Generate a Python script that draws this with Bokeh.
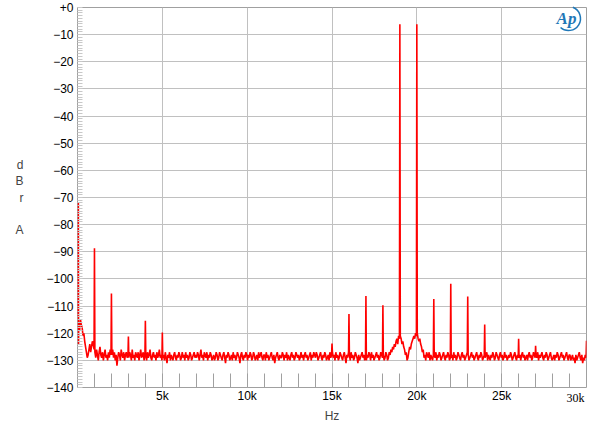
import numpy as np
from bokeh.plotting import figure
from bokeh.models import Range1d, FixedTicker, SingleIntervalTicker
from bokeh.embed import file_html
from bokeh.resources import INLINE

# ---- data ----
# noise floor: one value per 50 Hz bin, centred at 25, 75, ... 29975 Hz
bin_first_hz = 25
bin_step_hz = 50
floor_db = [
    -114, -116, -119, -115, -117, -118, -121, -120, -123, -125, -127, -129, -128, -126, -124, -127, -125, -123, -124, -126,
    -127, -129, -126, -128, -130, -127, -125, -128, -129, -127, -130, -128, -126, -129, -128, -130, -127, -129, -126, -128,
    -128, -126, -129, -127, -130, -128, -132, -129, -127, -128, -130, -126, -128, -129, -127, -130, -128, -127, -129, -128,
    -129, -127, -128, -130, -126, -129, -128, -130, -127, -128, -129, -127, -130, -128, -126, -129, -128, -127, -130, -128,
    -128, -130, -127, -129, -128, -126, -129, -130, -128, -127, -129, -128, -130, -127, -129, -128, -126, -129, -128, -130,
    -129, -128, -130, -127, -129, -131, -128, -129, -127, -130, -128, -129, -130, -128, -127, -129, -130, -128, -129, -127,
    -128, -130, -129, -127, -129, -128, -130, -127, -129, -128, -130, -129, -127, -128, -130, -129, -128, -127, -129, -128,
    -129, -127, -128, -130, -128, -126, -129, -128, -130, -127, -128, -129, -127, -130, -128, -129, -127, -128, -130, -129,
    -128, -130, -129, -127, -128, -130, -129, -127, -128, -129, -130, -128, -127, -129, -131, -128, -129, -127, -128, -130,
    -129, -128, -130, -127, -129, -128, -130, -129, -127, -128, -129, -131, -128, -127, -129, -130, -128, -129, -127, -128,
    -130, -128, -129, -127, -128, -130, -129, -127, -128, -130, -129, -128, -130, -127, -129, -128, -127, -129, -130, -128,
    -128, -130, -127, -129, -128, -130, -129, -128, -127, -129, -130, -128, -131, -129, -128, -127, -129, -130, -128, -129,
    -129, -127, -128, -130, -128, -129, -127, -130, -128, -129, -130, -128, -127, -129, -128, -130, -129, -127, -128, -129,
    -128, -130, -129, -127, -129, -128, -130, -128, -127, -129, -128, -130, -129, -128, -127, -130, -128, -129, -127, -128,
    -129, -127, -128, -130, -129, -128, -127, -129, -130, -128, -129, -127, -128, -130, -129, -128, -130, -127, -129, -128,
    -127, -129, -128, -130, -127, -129, -128, -130, -129, -127, -128, -129, -130, -128, -127, -129, -131, -128, -129, -127,
    -128, -130, -127, -129, -128, -130, -129, -127, -128, -129, -131, -128, -130, -129, -128, -127, -129, -128, -130, -129,
    -130, -128, -129, -127, -128, -130, -127, -129, -128, -130, -129, -128, -127, -129, -128, -130, -129, -127, -128, -129,
    -128, -130, -129, -127, -128, -130, -129, -127, -128, -126, -127, -125, -126, -124, -125, -123, -122, -124, -121, -122,
    -121, -122, -124, -123, -125, -126, -128, -127, -130, -129, -127, -125, -126, -124, -123, -122, -121, -122, -120, -121,
    -120, -122, -123, -122, -124, -125, -127, -126, -129, -128, -130, -127, -128, -129, -127, -130, -128, -129, -130, -128,
    -128, -129, -127, -130, -128, -129, -127, -128, -130, -129, -128, -127, -129, -130, -128, -129, -127, -128, -130, -129,
    -129, -128, -130, -127, -129, -128, -130, -129, -127, -128, -129, -130, -128, -127, -129, -128, -130, -129, -128, -127,
    -128, -130, -129, -128, -127, -129, -128, -130, -129, -128, -127, -129, -130, -128, -129, -127, -128, -130, -129, -128,
    -129, -128, -127, -130, -128, -129, -130, -128, -129, -127, -128, -130, -129, -127, -128, -129, -130, -128, -127, -129,
    -128, -130, -129, -127, -129, -128, -130, -129, -128, -129, -127, -128, -130, -129, -128, -127, -129, -130, -128, -129,
    -129, -128, -130, -128, -127, -129, -128, -130, -129, -128, -130, -128, -127, -129, -128, -130, -129, -127, -128, -129,
    -128, -129, -127, -130, -128, -129, -128, -127, -129, -130, -128, -129, -127, -128, -130, -129, -128, -127, -129, -130,
    -129, -128, -130, -128, -129, -127, -128, -130, -129, -128, -127, -129, -128, -130, -129, -128, -127, -129, -130, -128,
    -128, -130, -129, -128, -130, -129, -131, -128, -130, -129, -128, -127, -129, -130, -128, -131, -129, -130, -128, -129,
]
# DC leakage peak at the very left edge
dc_hz = [50, 60]
dc_db = [-72, -124]
# tones, harmonics and intermodulation products
spike_hz = [1000, 2000, 3000, 4000, 5000, 15000, 16000, 17000, 18000,
            19000, 20000, 21000, 22000, 23000, 24000, 26000, 27000, 30000]
spike_db = [-88.7, -105.4, -121.2, -115.4, -119.7, -123.8, -112.9, -106.3, -109.7,
            -6.2, -6.2, -107.4, -101.8, -106.5, -116.8, -122.0, -124.6, -122.8]

x_tick_hz = [5000, 10000, 15000, 20000, 25000]
x_tick_labels = ["5k", "10k", "15k", "20k", "25k"]
x_last_hz = [30000]
x_last_label = ["30k"]
x_minor_hz = [1000, 2000, 3000, 4000, 6000, 7000, 8000, 9000, 11000, 12000, 13000, 14000,
              16000, 17000, 18000, 19000, 21000, 22000, 23000, 24000, 26000, 27000, 28000, 29000]

# ---- build the trace ----
floor_hz = bin_first_hz + bin_step_hz * np.arange(len(floor_db))
all_hz = np.concatenate([np.array(dc_hz, dtype=float), floor_hz, np.array(spike_hz, dtype=float)])
all_db = np.concatenate([np.array(dc_db, dtype=float), np.array(floor_db, dtype=float),
                         np.array(spike_db, dtype=float)])
order = np.argsort(all_hz, kind="stable")
all_hz = all_hz[order]
all_db = all_db[order]

FONT = "Liberation Sans"
W, H = 600, 430

p = figure(width=W, height=H, output_backend="svg", toolbar_location=None,
           x_range=Range1d(0, 30000), y_range=Range1d(-140, 0),
           min_border_left=77, min_border_right=W - 586, min_border_top=7,
           min_border_bottom=H - 387)
p.background_fill_color = "white"
p.border_fill_color = "white"
p.outline_line_color = "#a0a0a0"
p.outline_line_width = 1

# grid
p.xgrid.grid_line_color = "#c0c0c0"
p.ygrid.grid_line_color = "#c0c0c0"

p.line(all_hz, all_db, line_color="#ff0000", line_width=1.6)

# y axis
p.yaxis.ticker = SingleIntervalTicker(interval=10, num_minor_ticks=10)
p.yaxis.major_label_overrides = {0: "+0"}
p.yaxis.axis_line_color = None
p.yaxis.major_tick_in = 0
p.yaxis.major_tick_out = 0
p.yaxis.minor_tick_in = 5
p.yaxis.minor_tick_out = 0
p.yaxis.minor_tick_line_color = "#c8c8c8"
p.yaxis.major_label_standoff = 4
p.yaxis.major_label_text_font = FONT
p.yaxis.major_label_text_font_size = "12px"
p.yaxis.major_label_text_color = "black"
p.yaxis.axis_label = "d\nB\nr\n\nA"
p.yaxis.axis_label_orientation = "horizontal"
p.yaxis.axis_label_text_font = FONT
p.yaxis.axis_label_text_font_size = "12px"
p.yaxis.axis_label_text_font_style = "normal"
p.yaxis.axis_label_text_line_height = 1.15
p.yaxis.axis_label_standoff = 20

# x axis
p.xaxis.ticker = FixedTicker(ticks=x_tick_hz, minor_ticks=x_minor_hz)
p.xaxis.major_label_overrides = {t: lab for t, lab in zip(x_tick_hz, x_tick_labels)}
p.xaxis.axis_line_color = None
p.xaxis.major_tick_in = 14
p.xaxis.major_tick_out = 0
p.xaxis.major_tick_line_color = "#a0a0a0"
p.xaxis.minor_tick_in = 14
p.xaxis.minor_tick_out = 0
p.xaxis.minor_tick_line_color = "#a0a0a0"
p.xaxis.major_label_standoff = 1
p.xaxis.major_label_text_font = FONT
p.xaxis.major_label_text_font_size = "12px"
p.xaxis.major_label_text_color = "black"
p.xaxis.axis_label = "Hz"
p.xaxis.axis_label_text_font = FONT
p.xaxis.axis_label_text_font_size = "12px"
p.xaxis.axis_label_text_font_style = "normal"
p.xaxis.axis_label_standoff = 3

# last x tick label, pulled inside like the original
p.text(x=x_last_hz, y=[-140] * len(x_last_hz), text=x_last_label, x_offset=-11, y_offset=10,
       text_align="center", text_baseline="middle", text_font=FONT,
       text_font_size="12px", text_color="black", level="overlay")

# AP logo (position in screen pixels from the frame's top-right corner)
logo_x = p.x_range.end - (586 - 566) * 30000 / 509
logo_y = p.y_range.end - (18 - 7) * 140 / 380
p.text(x=[logo_x], y=[logo_y], text=["Ap"], text_align="center", text_baseline="middle",
       text_font=FONT, text_font_size="17px", text_font_style="bold italic",
       text_color="#1f78b8", level="overlay")
p.arc(x=[logo_x + 2 * 30000 / 509], y=[logo_y], radius=12, radius_units="screen",
      start_angle=-2.3, end_angle=1.2, line_color="#1f78b8", line_width=1.5, level="overlay")

open("out.html", "w").write(file_html(p, INLINE))
